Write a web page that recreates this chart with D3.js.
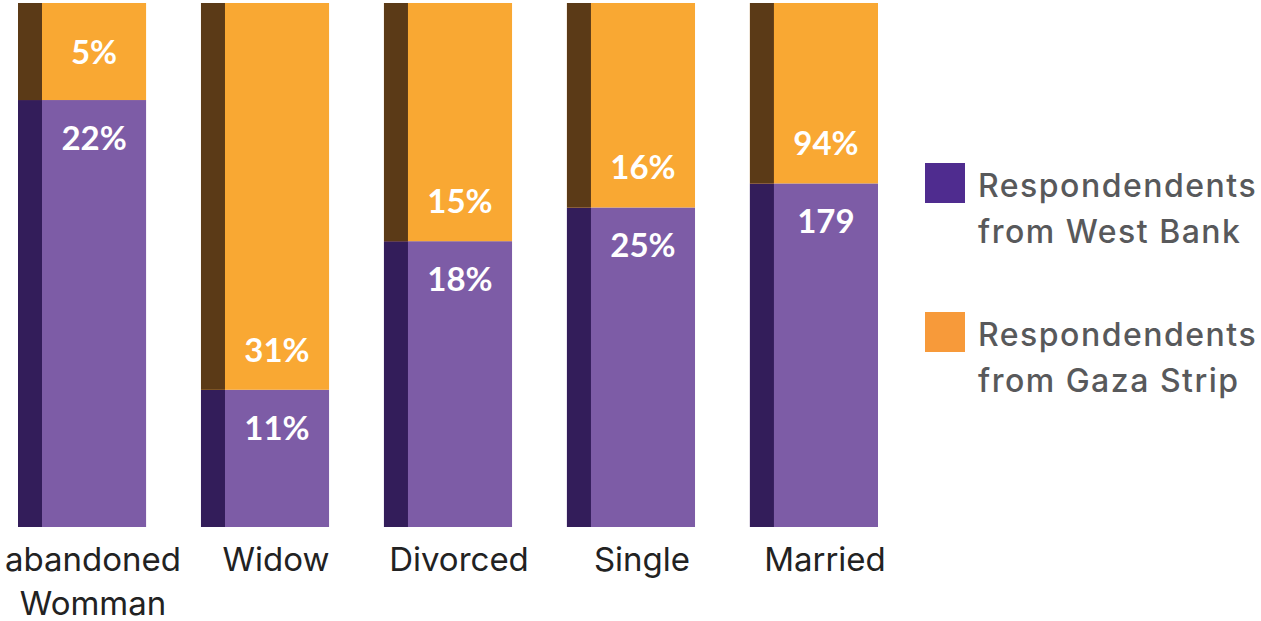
<!DOCTYPE html>
<html>
<head>
<meta charset="utf-8">
<script src="https://cdn.jsdelivr.net/npm/d3@7"></script>
<style>
  html, body { margin: 0; padding: 0; background: #ffffff; }
  svg { display: block; }
</style>
</head>
<body>
<svg id="chart" width="1261" height="621"></svg>
<script>
// Marital status of respondents, split by region (100% stacked)
const categories = ["abandoned Womman", "Widow", "Divorced", "Single", "Married"];
const categoryLines = [["abandoned", "Womman"], ["Widow"], ["Divorced"], ["Single"], ["Married"]];
const westBank = [22, 11, 18, 25, 179];
const gazaStrip = [5, 31, 15, 16, 94];
const westBankLabels = ["22%", "11%", "18%", "25%", "179"];
const gazaStripLabels = ["5%", "31%", "15%", "16%", "94%"];
const seriesNames = ["Respondendents from West Bank", "Respondendents from Gaza Strip"];

const colors = {
  west: "#7d5ca6", westSide: "#331d5a", westKey: "#4f2c8f",
  gaza: "#f9a833", gazaSide: "#5b3a17", gazaKey: "#f79a3a"
};

const svg = d3.select("#chart");

const x = d3.scaleBand().domain(categories).range([18, 878]).paddingInner(0.3).paddingOuter(0);
const y = d3.scaleLinear().domain([0, 1]).range([527, 3]);
const side = 24;

const rows = categories.map((c, i) => {
  const total = westBank[i] + gazaStrip[i];
  return { cat: c, i, w: westBank[i] / total };
});

const g = svg.append("g");

const bar = g.selectAll("g.bar").data(rows).join("g").attr("class", "bar");

// West Bank segment (bottom)
bar.append("rect")
  .attr("x", d => x(d.cat)).attr("width", x.bandwidth())
  .attr("y", d => y(d.w)).attr("height", d => y(0) - y(d.w))
  .attr("fill", colors.west);
bar.append("rect")
  .attr("x", d => x(d.cat)).attr("width", side)
  .attr("y", d => y(d.w)).attr("height", d => y(0) - y(d.w))
  .attr("fill", colors.westSide);

// Gaza Strip segment (top)
bar.append("rect")
  .attr("x", d => x(d.cat)).attr("width", x.bandwidth())
  .attr("y", y(1)).attr("height", d => y(d.w) - y(1))
  .attr("fill", colors.gaza);
bar.append("rect")
  .attr("x", d => x(d.cat)).attr("width", side)
  .attr("y", y(1)).attr("height", d => y(d.w) - y(1))
  .attr("fill", colors.gazaSide);

const labelX = d => x(d.cat) + side + (x.bandwidth() - side) / 2;

// top labels sit just above the split; a short segment gets its label centred
const topLabelY = d => {
  const h = y(d.w) - y(1);
  return h < 110 ? (y(1) + y(d.w)) / 2 + 12 : y(d.w) - 28;
};

bar.append("text")
  .attr("x", labelX).attr("y", topLabelY)
  .attr("text-anchor", "middle")
  .attr("fill", "#ffffff")
  .style("font-family", "Lato, 'Open Sans', sans-serif")
  .style("font-weight", 700).style("font-size", "33px")
  .text(d => gazaStripLabels[d.i]);

bar.append("text")
  .attr("x", labelX).attr("y", d => y(d.w) + 50)
  .attr("text-anchor", "middle")
  .attr("fill", "#ffffff")
  .style("font-family", "Lato, 'Open Sans', sans-serif")
  .style("font-weight", 700).style("font-size", "33px")
  .text(d => westBankLabels[d.i]);

// Category labels
const catText = g.selectAll("text.cat").data(rows).join("text")
  .attr("class", "cat")
  .attr("text-anchor", "middle")
  .attr("fill", "#222222")
  .style("font-family", "Inter, 'Noto Sans', sans-serif")
  .style("font-size", "33px");
catText.selectAll("tspan").data(d => categoryLines[d.i].map(t => ({ t, d })))
  .join("tspan")
  .attr("x", o => labelX(o.d) - 1)
  .attr("y", (o, k) => 571 + k * 44)
  .text(o => o.t);

// Legend
const legend = svg.append("g").attr("transform", "translate(925,163)");
const keys = [
  { name: seriesNames[0], color: colors.westKey, lines: ["Respondendents", "from West Bank"] },
  { name: seriesNames[1], color: colors.gazaKey, lines: ["Respondendents", "from Gaza Strip"] }
];
const item = legend.selectAll("g").data(keys).join("g")
  .attr("transform", (d, i) => `translate(0,${i * 149})`);
item.append("rect").attr("width", 40).attr("height", 40).attr("fill", d => d.color);
item.append("text")
  .attr("fill", "#58595b")
  .style("font-family", "Inter, 'Noto Sans', sans-serif")
  .style("font-weight", 500).style("font-size", "32px")
  .style("letter-spacing", "1.5px")
  .selectAll("tspan").data(d => d.lines).join("tspan")
  .attr("x", 53).attr("y", (t, k) => 34 + k * 46)
  .text(t => t);
</script>
</body>
</html>
